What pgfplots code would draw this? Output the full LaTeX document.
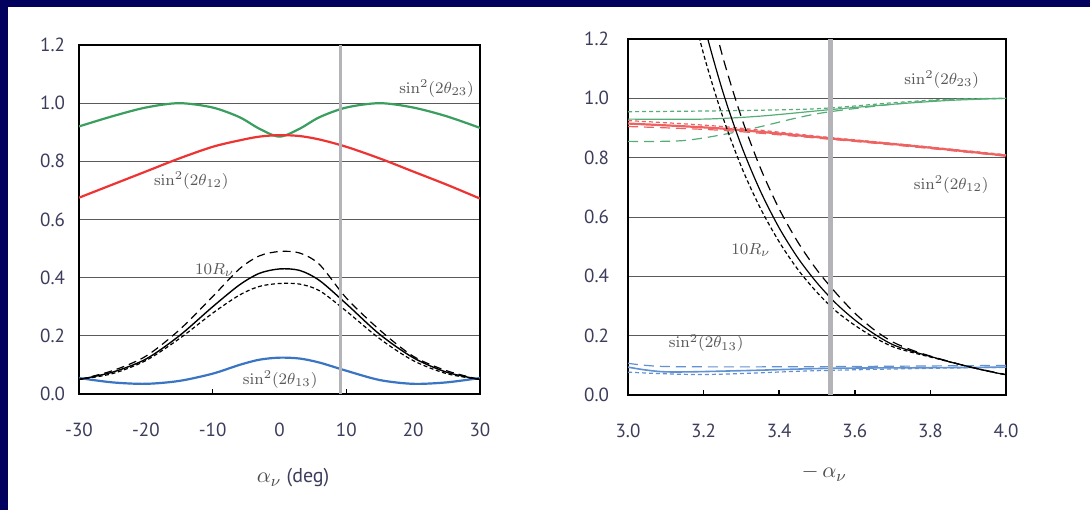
\documentclass[border=0pt]{standalone}
\usepackage{pgfplots}
\pgfplotsset{compat=1.18}
\usepackage[no-math]{fontspec}
\setmainfont{PT Sans}
\definecolor{navy}{HTML}{02025E}
\definecolor{cgreen}{HTML}{3A9E5F}
\definecolor{cred}{HTML}{EE3333}
\definecolor{cblue}{HTML}{3A75C4}
\definecolor{lred}{HTML}{EE6262}
\definecolor{tcol}{HTML}{3C3C5C}
\definecolor{gridc}{HTML}{5A5A5A}
\definecolor{vgray}{HTML}{B4B4B8}

% left panel data (alpha_nu in deg)
\pgfplotstableread{
x    grn   red   sol   up    lo    blu
-30  0.92  0.675 0.05  0.05  0.05  0.055
-25  0.955 0.72  0.075 0.08  0.07  0.04
-20  0.985 0.765 0.12  0.13  0.115 0.035
-15  1.0   0.81  0.20  0.22  0.19  0.045
-10  0.985 0.85  0.30  0.335 0.278 0.07
-6   0.952 0.872 0.375 0.43  0.34  0.10
-3   0.912 0.885 0.415 0.475 0.37  0.118
0    0.885 0.89  0.43  0.49  0.38  0.125
3    0.912 0.887 0.425 0.485 0.378 0.122
6    0.952 0.875 0.39  0.445 0.355 0.108
10   0.985 0.85  0.31  0.33  0.285 0.08
15   1.0   0.81  0.205 0.22  0.19  0.048
20   0.985 0.765 0.125 0.13  0.115 0.035
25   0.955 0.72  0.075 0.08  0.07  0.04
30   0.915 0.672 0.05  0.05  0.05  0.055
}\lefttab

% right panel, 10 R_nu (solid, short dash, long dash)
\pgfplotstableread{
x     sol    sd     ld
3.15  1.531  1.402  1.706
3.20  1.254  1.149  1.397
3.25  1.026  0.940  1.143
3.30  0.840  0.769  0.936
3.35  0.688  0.630  0.766
3.40  0.563  0.516  0.627
3.45  0.461  0.422  0.514
3.50  0.378  0.346  0.421
3.55  0.309  0.283  0.344
3.60  0.253  0.235  0.276
3.65  0.207  0.195  0.221
3.70  0.170  0.163  0.179
3.75  0.148  0.144  0.152
3.80  0.130  0.128  0.131
3.85  0.112  0.112  0.113
3.90  0.096  0.096  0.096
3.95  0.081  0.081  0.082
4.00  0.068  0.068  0.069
}\rtab

\tikzset{lab/.style={font=\fontsize{8.5}{10}\selectfont, text=black!65}}

\begin{document}
\begin{tikzpicture}
\useasboundingbox (0pt,0pt) rectangle (545pt,255pt);
\fill[navy] (0pt,0pt) rectangle (545pt,255pt);
\fill[white] (4pt,0pt) rectangle (545pt,251.5pt);

\pgfplotsset{
  panel/.style={
    scale only axis, anchor=south west,
    ymin=0, ymax=1.2, ytick={0,0.2,...,1.2},
    ymajorgrids, grid style={gridc, line width=0.5pt},
    axis line style={black, line width=0.8pt},
    tick pos=bottom,
    ytick style={draw=none},
    tick align=inside,
    /pgf/number format/assume math mode=true,
    /pgf/number format/.cd, fixed, fixed zerofill, precision=1, /pgfplots/.cd,
    yticklabel style={font=\fontsize{9.5}{11}\selectfont, text=tcol, anchor=east},
    xticklabel style={font=\fontsize{9.5}{11}\selectfont, text=tcol, anchor=base, yshift=-21pt},
    every axis plot/.append style={line join=round},
  },
}

% ---------- left panel ----------
\begin{axis}[panel, at={(39.5pt,58pt)}, width=200.5pt, height=174.5pt,
  xmin=-30, xmax=30, xtick={-30,-20,...,30},
  xticklabel style={/pgf/number format/precision=0},
  major tick length=0pt,
  extra x ticks={-10,10}, extra x tick labels={},
  extra x tick style={major tick length=2.5pt, tick style={black, line width=0.8pt}},
  yticklabel style={xshift=-3.5pt},
  xlabel={\textcolor{black!70}{\fontsize{11}{12}\selectfont$\alpha_\nu$} (deg)},
  xlabel style={at={(axis description cs:0.534,0)}, anchor=center, yshift=-42pt,
    font=\fontsize{10}{12}\selectfont, text=tcol},
]
\addplot[cgreen, line width=1.1pt, smooth] table[x=x,y=grn] {\lefttab};
\addplot[cred, line width=1.1pt, smooth] table[x=x,y=red] {\lefttab};
\addplot[cblue, line width=1.1pt, smooth] table[x=x,y=blu] {\lefttab};
\addplot[black, line width=0.6pt, dash pattern=on 4pt off 2.5pt, smooth] table[x=x,y=up] {\lefttab};
\addplot[black, line width=0.6pt, dash pattern=on 2pt off 1.3pt, smooth] table[x=x,y=lo] {\lefttab};
\addplot[black, line width=0.7pt, smooth] table[x=x,y=sol] {\lefttab};
\addplot[vgray, line width=1.5pt] coordinates {(9.1,0) (9.1,1.2)};
\node[lab] at (axis cs:23.5,1.05) {$\sin^2(2\theta_{23})$};
\node[lab] at (axis cs:-13.2,0.735) {$\sin^2(2\theta_{12})$};
\node[lab] at (axis cs:-9.7,0.425) {$10R_\nu$};
\node[lab] at (axis cs:0.1,0.05) {$\sin^2(2\theta_{13})$};
\end{axis}

% ---------- right panel ----------
\begin{axis}[panel, at={(314pt,57.5pt)}, width=189pt, height=178pt,
  xmin=3, xmax=4, xtick={3,3.2,...,4},
  xtick style={black, line width=0.8pt}, major tick length=2.5pt,
  yticklabel style={xshift=-6pt},
  xlabel={\textcolor{black!70}{$-\,\alpha_\nu$}},
  xlabel style={at={(axis description cs:0.519,0)}, anchor=center, yshift=-39pt,
    font=\fontsize{11}{12}\selectfont},
]
% sin^2(2 theta_23)
\addplot[cgreen!85, line width=0.6pt, smooth] coordinates {(3.0,0.93)(3.2,0.93)(3.35,0.94)(3.535,0.962)(3.7,0.98)(3.85,0.993)(4.0,1.0)};
\addplot[cgreen!85, line width=0.6pt, dash pattern=on 2pt off 1.5pt, smooth] coordinates {(3.0,0.955)(3.25,0.958)(3.5,0.965)(3.7,0.985)(3.85,0.997)(4.0,1.0)};
\addplot[cgreen!85, line width=0.6pt, dash pattern=on 5pt off 3pt, smooth] coordinates {(3.0,0.855)(3.15,0.858)(3.3,0.89)(3.45,0.935)(3.535,0.955)(3.7,0.98)(3.85,0.995)(4.0,1.0)};
% sin^2(2 theta_12)
\addplot[lred, line width=1.1pt, smooth] coordinates {(3.0,0.915)(3.25,0.898)(3.535,0.865)(3.75,0.84)(4.0,0.807)};
\addplot[lred, line width=0.6pt, dash pattern=on 2pt off 1.5pt, smooth] coordinates {(3.0,0.925)(3.25,0.905)(3.535,0.868)(3.75,0.842)(4.0,0.81)};
\addplot[lred, line width=0.6pt, dash pattern=on 5pt off 3pt, smooth] coordinates {(3.0,0.905)(3.25,0.892)(3.535,0.862)(3.75,0.837)(4.0,0.805)};
% sin^2(2 theta_13)
\addplot[cblue!80, line width=0.8pt, smooth] coordinates {(3.0,0.094)(3.1,0.078)(3.3,0.082)(3.535,0.09)(3.8,0.092)(4.0,0.094)};
\addplot[cblue!80, line width=0.6pt, dash pattern=on 2pt off 1.5pt, smooth] coordinates {(3.0,0.077)(3.2,0.069)(3.5,0.082)(3.8,0.09)(4.0,0.093)};
\addplot[cblue!80, line width=0.6pt, dash pattern=on 5pt off 3pt, smooth] coordinates {(3.0,0.107)(3.1,0.096)(3.4,0.095)(3.7,0.097)(4.0,0.1)};
% 10 R_nu
\addplot[black, line width=0.6pt, dash pattern=on 2pt off 1.3pt, smooth] table[x=x,y=sd] {\rtab};
\addplot[black, line width=0.6pt, dash pattern=on 5pt off 3pt, smooth] table[x=x,y=ld] {\rtab};
\addplot[black, line width=0.6pt, smooth] table[x=x,y=sol] {\rtab};
\addplot[vgray, line width=2.5pt] coordinates {(3.535,0) (3.535,1.2)};
\node[lab] at (axis cs:3.83,1.063) {$\sin^2(2\theta_{23})$};
\node[lab] at (axis cs:3.855,0.709) {$\sin^2(2\theta_{12})$};
\node[lab] at (axis cs:3.325,0.49) {$10R_\nu$};
\node[lab] at (axis cs:3.207,0.175) {$\sin^2(2\theta_{13})$};
\end{axis}
\end{tikzpicture}
\end{document}
